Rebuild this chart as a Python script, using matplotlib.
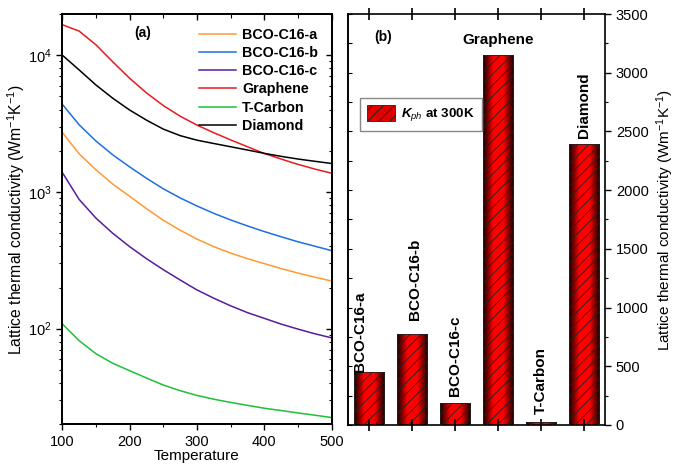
import numpy as np
import matplotlib
matplotlib.use('Agg')
import matplotlib.pyplot as plt
from matplotlib.colors import LinearSegmentedColormap
from matplotlib.patches import Patch
from matplotlib.ticker import MultipleLocator, FixedLocator, NullFormatter, LogLocator

plt.rcParams['font.family'] = ['Liberation Sans', 'DejaVu Sans']
plt.rcParams['mathtext.fontset'] = 'custom'
plt.rcParams['mathtext.rm'] = 'Liberation Sans'
plt.rcParams['mathtext.it'] = 'Liberation Sans:italic'
plt.rcParams['mathtext.bf'] = 'Liberation Sans:bold'
plt.rcParams['mathtext.bfit'] = 'Liberation Sans:italic:bold'
plt.rcParams['hatch.linewidth'] = 0.6

# data
temps = [100, 125, 150, 175, 200, 225, 250, 275, 300, 325, 350, 375, 400, 425, 450, 475, 500]
k_bco_a = [2723, 1900, 1450, 1140, 930, 755, 620, 525, 452, 398, 357, 325, 299, 275, 255, 238, 223]
k_bco_b = [4375, 3097, 2355, 1866, 1524, 1259, 1054, 904, 789, 697, 624, 564, 513, 470, 432, 401, 372]
k_bco_c = [1387, 881, 643, 498, 398, 325, 270, 227, 192, 167, 147, 131, 119, 108, 99.3, 91.8, 85.7]
k_graphene = [16700, 15000, 11900, 8930, 6780, 5300, 4280, 3580, 3080, 2710, 2400, 2140, 1910,
              1740, 1590, 1470, 1370]
k_tcarbon = [108.4, 81.7, 65.6, 55.8, 49.3, 43.6, 38.7, 35.2, 32.5, 30.5, 28.9, 27.5, 26.2,
             25.2, 24.2, 23.3, 22.4]
k_diamond = [10000, 7800, 6050, 4840, 3970, 3350, 2880, 2580, 2390, 2260, 2140, 2025, 1915,
             1820, 1740, 1675, 1614]

materials = ['BCO-C16-a', 'BCO-C16-b', 'BCO-C16-c', 'Graphene', 'T-Carbon', 'Diamond']
k300 = [451, 777, 190, 3151, 28, 2390]

line_colors = ['#ff9933', '#1e6fe0', '#5a1aa0', '#e8191f', '#1fbf3a', '#000000']
series = [k_bco_a, k_bco_b, k_bco_c, k_graphene, k_tcarbon, k_diamond]

fig = plt.figure(figsize=(6.81, 4.67), dpi=100)
ax1 = fig.add_axes([0.0915, 0.0915, 0.3955, 0.8785])
ax2 = fig.add_axes([0.511, 0.09, 0.378, 0.880])

# (a) curves
for name, ys, c in zip(materials, series, line_colors):
    ax1.plot(temps, ys, color=c, lw=1.1, label=name)
ax1.set_yscale('log')
ax1.set_xlim(100, 500)
ax1.set_ylim(20, 20000)
ax1.xaxis.set_major_locator(MultipleLocator(100))
ax1.xaxis.set_minor_locator(MultipleLocator(50))
ax1.tick_params(axis='both', which='both', labelsize=10.5, direction='out')
ax1.tick_params(which='major', length=4, width=1)
ax1.tick_params(which='minor', length=2.5, width=0.8)
ax1.set_xlabel('Temperature', fontsize=11, labelpad=0)
ax1.set_ylabel('Lattice thermal conductivity (Wm$^{-1}$K$^{-1}$)', fontsize=11.3, labelpad=1)
ax1.text(0.30, 0.954, '(a)', transform=ax1.transAxes, fontsize=10, fontweight='bold',
         ha='center', va='center')
ax1.legend(loc='upper right', frameon=False, prop={'weight': 'bold', 'size': 10.3},
           handlelength=2.6, handletextpad=0.4, labelspacing=0.3,
           borderaxespad=0.55, bbox_to_anchor=(1.0, 1.0))

# inward ticks on top and right of panel (a)
top1 = ax1.twiny()
top1.set_xlim(ax1.get_xlim())
top1.xaxis.set_major_locator(MultipleLocator(100))
top1.xaxis.set_minor_locator(MultipleLocator(50))
top1.tick_params(which='both', direction='in', labeltop=False)
top1.tick_params(which='major', length=4, width=1)
top1.tick_params(which='minor', length=3, width=0.8)
right1 = ax1.twinx()
right1.set_yscale('log')
right1.set_ylim(ax1.get_ylim())
right1.yaxis.set_minor_locator(LogLocator(subs=np.arange(2, 10)))
right1.yaxis.set_minor_formatter(NullFormatter())
right1.tick_params(which='both', direction='in', labelright=False)
right1.tick_params(which='major', length=4, width=1)
right1.tick_params(which='minor', length=2.5, width=0.8)
for a in (ax1, top1, right1):
    for sp in a.spines.values():
        sp.set_linewidth(1.2)

# (b) bars
x = np.arange(len(materials))
cmap = LinearSegmentedColormap.from_list('bar', ['#140000', '#ff0000', '#ff0000', '#140000'])
grad = np.linspace(0, 1, 64).reshape(1, -1)
bars = ax2.bar(x, k300, width=0.7, facecolor='none', edgecolor='#222222',
               hatch='///', lw=0.6, zorder=3)
for b in bars:
    im = ax2.imshow(grad, cmap=cmap, aspect='auto', zorder=2,
                    extent=[b.get_x(), b.get_x() + b.get_width(), 0, b.get_height()])
    im.set_clip_path(b)
ax2.set_xlim(-0.5, 5.5)
ax2.set_ylim(0, 3500)
ax2.set_axisbelow(False)

label_dy = [0, 117, 60, 70, 63, 57]
label_dx = [-0.22, 0.07, 0, 0, 0, 0]
for i, (name, v) in enumerate(zip(materials, k300)):
    if name == 'Graphene':
        ax2.text(x[i], v + label_dy[i], name, ha='center', va='bottom', fontsize=11,
                 fontweight='bold')
    else:
        ax2.text(x[i] + label_dx[i], v + label_dy[i], name, ha='center', va='bottom',
                 rotation=90, fontsize=11, fontweight='bold')

# x ticks on both edges of panel (b): out at the bottom, in at the top
ax2.set_xticks(x)
ax2.tick_params(axis='x', which='major', bottom=True, top=True, labelbottom=False,
                labeltop=False, direction='inout', length=9, width=1.2)

ax2.yaxis.tick_right()
ax2.yaxis.set_label_position('right')
ax2.yaxis.set_major_locator(MultipleLocator(500))
ax2.yaxis.set_minor_locator(MultipleLocator(250))
ax2.tick_params(axis='y', which='both', direction='out', labelsize=10.5)
ax2.tick_params(axis='y', which='major', length=4, width=1)
ax2.tick_params(axis='y', which='minor', length=2.5, width=0.8)
ax2.set_ylabel('Lattice thermal conductivity (Wm$^{-1}$K$^{-1}$)', fontsize=11, labelpad=4)

# inward ticks on the left spine of panel (b)
sec_y = ax2.secondary_yaxis('left')
sec_y.yaxis.set_major_locator(MultipleLocator(250))
sec_y.tick_params(direction='in', length=3, labelleft=False, width=0.8)
sec_y.spines['left'].set_linewidth(1.2)
for sp in ax2.spines.values():
    sp.set_linewidth(1.2)

ax2.text(0.136, 0.944, '(b)', transform=ax2.transAxes, fontsize=10, fontweight='bold',
         ha='center', va='center')
handle = Patch(facecolor='#e00000', edgecolor='#222222', hatch='///', lw=0.6)
ax2.legend([handle], [r'$\mathbfit{K}_{\mathit{ph}}$ at 300K'], loc='upper left',
           bbox_to_anchor=(0.047, 0.796), borderaxespad=0, prop={'weight': 'bold', 'size': 9.6},
           fancybox=False, edgecolor='#888888', framealpha=1,
           handlelength=2.1, handleheight=1.4, handletextpad=0.45, borderpad=0.55)

plt.savefig('out.png', dpi=100)
